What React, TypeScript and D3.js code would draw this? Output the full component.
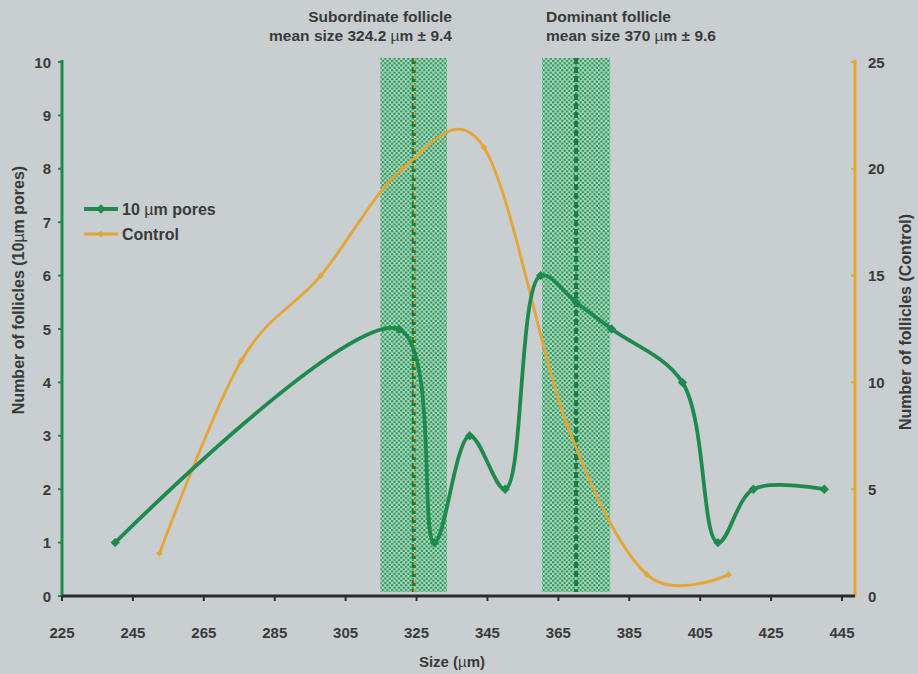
import React from "react";
import * as d3 from "d3";

// Follicle counts by size class
const sizes10 = [240, 320, 330, 340, 350, 360, 370, 380, 400, 410, 420, 440];
const counts10 = [1, 5, 1, 3, 2, 6, 5.5, 5, 4, 1, 2, 2];
const sizesControl = [252.5, 275.5, 298, 321, 344, 367.5, 390, 413];
const countsControl = [2, 11, 15, 20, 21, 8, 1, 1];

const xTicks = [225, 245, 265, 285, 305, 325, 345, 365, 385, 405, 425, 445];
const leftTicks = [0, 1, 2, 3, 4, 5, 6, 7, 8, 9, 10];
const rightTicks = [0, 5, 10, 15, 20, 25];

const follicleMeans = [324.2, 370];
const follicleSD = [9.4, 9.6];
const follicleNames = ["Subordinate follicle", "Dominant follicle"];

const GREEN = "#1f8a4f";
const ORANGE = "#e3a535";
const TEXT = "#3a3a3a";
const FONT = "'Liberation Sans', Arial, sans-serif";

export default function App() {
  const W = 918;
  const H = 674;
  const left = 62;
  const rightAxisX = 855;
  const top = 62;
  const bottom = 596;

  const x = d3.scaleLinear().domain([225, 445]).range([left, 842]);
  const yL = d3.scaleLinear().domain([0, 10]).range([bottom, top]);
  const yR = d3.scaleLinear().domain([0, 25]).range([bottom, top]);

  const pts10 = sizes10.map((s, i) => [x(s), yL(counts10[i])] as [number, number]);
  const ptsC = sizesControl.map((s, i) => [x(s), yR(countsControl[i])] as [number, number]);

  const line10 = d3.line().curve(d3.curveCatmullRom.alpha(0.5));
  const lineC = d3.line().curve(d3.curveCatmullRom.alpha(0));

  const sq = d3.symbol(d3.symbolSquare, 44)();
  const sqSmall = d3.symbol(d3.symbolSquare, 22)();

  const bandTop = 58;
  const bandBottom = bottom - 4;

  return (
    <svg width={W} height={H} style={{ position: "absolute", left: 0, top: 0 }} fontFamily={FONT}>
      <defs>
        <pattern id="dots" width={4.6} height={4.6} patternUnits="userSpaceOnUse">
          <rect width={4.6} height={4.6} fill="#addfc0" />
          <circle cx={1.15} cy={1.15} r={1.25} fill="#2f8f5b" />
          <circle cx={3.45} cy={3.45} r={1.25} fill="#2f8f5b" />
        </pattern>
      </defs>
      <rect width={W} height={H} fill="#c9ced0" />

      {/* follicle size bands */}
      {follicleMeans.map((m, i) => (
        <rect
          key={"band" + i}
          x={x(m - follicleSD[i])}
          y={bandTop}
          width={x(m + follicleSD[i]) - x(m - follicleSD[i])}
          height={bandBottom - bandTop}
          fill="url(#dots)"
        />
      ))}
      <line x1={x(follicleMeans[0])} x2={x(follicleMeans[0])} y1={bandTop} y2={bandBottom}
        stroke="#1d7a44" strokeWidth={4} strokeDasharray="6 3" />
      <line x1={x(follicleMeans[0]) + 1} x2={x(follicleMeans[0]) + 1} y1={bandTop} y2={bandBottom}
        stroke={ORANGE} strokeWidth={2} strokeDasharray="3 6" />
      <line x1={x(follicleMeans[1])} x2={x(follicleMeans[1])} y1={bandTop} y2={bandBottom}
        stroke="#1d7a44" strokeWidth={4} strokeDasharray="6 3" />

      {/* annotations */}
      <g fontWeight="bold" fontSize={15.5} fill={TEXT}>
        <text x={452} y={22} textAnchor="end">{follicleNames[0]}</text>
        <text x={452} y={41} textAnchor="end">
          mean size {follicleMeans[0]} <tspan fontWeight="normal">µ</tspan>m ± {follicleSD[0]}
        </text>
        <text x={546} y={22}>{follicleNames[1]}</text>
        <text x={546} y={41}>
          mean size {follicleMeans[1]} <tspan fontWeight="normal">µ</tspan>m ± {follicleSD[1]}
        </text>
      </g>

      {/* series */}
      <path d={lineC(ptsC) || ""} fill="none" stroke={ORANGE} strokeWidth={2.8} />
      {ptsC.map((p, i) => (
        <path key={"c" + i} d={sqSmall || ""} transform={`translate(${p[0]},${p[1]}) rotate(45)`} fill={ORANGE} />
      ))}
      <path d={line10(pts10) || ""} fill="none" stroke={GREEN} strokeWidth={3.8} />
      {pts10.map((p, i) => (
        <path key={"g" + i} d={sq || ""} transform={`translate(${p[0]},${p[1]}) rotate(45)`} fill={GREEN} />
      ))}

      {/* left axis */}
      <line x1={left} x2={left} y1={top - 2} y2={bottom} stroke={GREEN} strokeWidth={3} />
      {leftTicks.map((t) => (
        <g key={"l" + t}>
          <line x1={left - 4} x2={left} y1={yL(t)} y2={yL(t)} stroke={GREEN} strokeWidth={2} />
          <text x={51} y={yL(t) + 5.5} textAnchor="end" fontWeight="bold" fontSize={15} fill={TEXT}>{t}</text>
        </g>
      ))}
      <text transform={`translate(24,290) rotate(-90)`} textAnchor="middle"
        fontWeight="bold" fontSize={16} fill={TEXT}>
        Number of follicles (10<tspan fontWeight="normal">µ</tspan>m pores)
      </text>

      {/* right axis */}
      <line x1={rightAxisX} x2={rightAxisX} y1={top - 2} y2={bottom} stroke={ORANGE} strokeWidth={3} />
      {rightTicks.map((t) => (
        <g key={"r" + t}>
          <line x1={rightAxisX - 4} x2={rightAxisX + 1} y1={yR(t)} y2={yR(t)} stroke={ORANGE} strokeWidth={2} />
          <text x={868} y={yR(t) + 5.5} fontWeight="bold" fontSize={15} fill={TEXT}>{t}</text>
        </g>
      ))}
      <text transform={`translate(911,322) rotate(-90)`} textAnchor="middle"
        fontWeight="bold" fontSize={16} fill={TEXT}>
        Number of follicles (Control)
      </text>

      {/* x axis */}
      <line x1={left} x2={rightAxisX} y1={bottom} y2={bottom} stroke="#2b2b2b" strokeWidth={3} />
      {xTicks.map((t) => (
        <g key={"x" + t}>
          <line x1={x(t)} x2={x(t)} y1={bottom} y2={bottom + 5} stroke="#2b2b2b" strokeWidth={2} />
          <text x={x(t)} y={638} textAnchor="middle" fontWeight="bold" fontSize={15} fill={TEXT}>{t}</text>
        </g>
      ))}
      <text x={452} y={667} textAnchor="middle" fontWeight="bold" fontSize={15} fill={TEXT}>
        Size (<tspan fontWeight="normal">µ</tspan>m)
      </text>

      {/* legend */}
      <line x1={84} x2={118} y1={209} y2={209} stroke={GREEN} strokeWidth={3.8} />
      <path d={sq || ""} transform="translate(101,209) rotate(45)" fill={GREEN} />
      <text x={122} y={215} fontWeight="bold" fontSize={16} fill={TEXT}>
        10 <tspan fontWeight="normal">µ</tspan>m pores
      </text>
      <line x1={84} x2={118} y1={234} y2={234} stroke={ORANGE} strokeWidth={2.8} />
      <path d={sqSmall || ""} transform="translate(101,234) rotate(45)" fill={ORANGE} />
      <text x={122} y={240} fontWeight="bold" fontSize={16} fill={TEXT}>Control</text>
    </svg>
  );
}
